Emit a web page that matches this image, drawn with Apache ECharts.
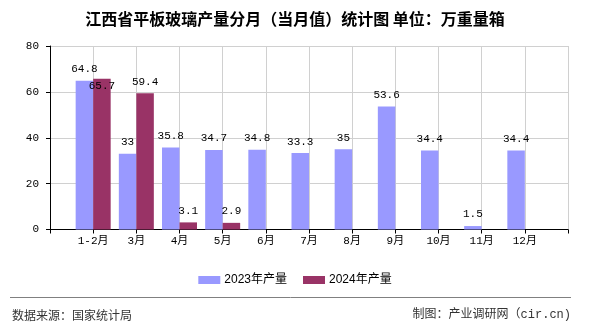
<!DOCTYPE html>
<html>
<head>
<meta charset="utf-8">
<script src="https://cdn.jsdelivr.net/npm/echarts@6/dist/echarts.min.js"></script>
<style>
  html, body { margin: 0; padding: 0; background: #fff; }
  #chart { width: 590px; height: 330px; }
</style>
</head>
<body>
<div id="chart"></div>
<script>
// 月份（1-2月合并）
const months = ['1-2月', '3月', '4月', '5月', '6月', '7月', '8月', '9月', '10月', '11月', '12月'];
// 2023年各月产量（万重量箱）
const output2023 = [64.8, 33, 35.8, 34.7, 34.8, 33.3, 35, 53.6, 34.4, 1.5, 34.4];
// 2024年各月产量（万重量箱）
const output2024 = [65.7, 59.4, 3.1, 2.9];
// 纵轴刻度
const yTicks = [0, 20, 40, 60, 80];

const seriesNames = ['2023年产量', '2024年产量'];
const colors = ['#9999ff', '#993366'];

const monoFont = "'Liberation Mono', 'Noto Sans CJK SC', monospace";
const cjkFont = "'Noto Sans CJK SC', sans-serif";

// Category axis has an empty slot at each end so that the months sit on grid lines
const cats = [''].concat(months, ['']);
function pad(arr) {
  const out = ['-'];
  for (let i = 0; i < months.length; i++) out.push(i < arr.length ? arr[i] : '-');
  out.push('-');
  return out;
}

const data2023 = pad(output2023);
// Labels of 2024 that would collide with the 2023 label of the same month go inside the bar
const data2024 = pad(output2024).map((v, i) => {
  if (v === '-') return v;
  const other = data2023[i];
  if (other !== '-' && Math.abs(v - other) < 4) {
    return { value: v, label: { position: 'insideTop', distance: 2 } };
  }
  return v;
});

const labelStyle = {
  show: true,
  position: 'top',
  distance: 6,
  color: '#000',
  fontFamily: monoFont,
  fontSize: 11
};

const chart = echarts.init(document.getElementById('chart'), null, { renderer: 'canvas' });
chart.setOption({
  animation: false,
  backgroundColor: '#fff',
  title: {
    text: '江西省平板玻璃产量分月（当月值）统计图 单位：万重量箱',
    left: 'center',
    top: 6,
    textStyle: { fontFamily: cjkFont, fontSize: 16, fontWeight: 'bold', color: '#000' }
  },
  legend: {
    top: 269,
    left: 'center',
    itemWidth: 22,
    itemHeight: 8,
    itemGap: 16,
    icon: 'rect',
    textStyle: { fontFamily: "'Liberation Sans', 'Noto Sans CJK SC', sans-serif", fontSize: 12, color: '#000', padding: [0, 0, 0, -1] },
    data: seriesNames
  },
  grid: { left: 50, right: 22, top: 46, bottom: 100.5, containLabel: false },
  xAxis: {
    type: 'category',
    data: cats,
    boundaryGap: false,
    axisLine: { lineStyle: { color: '#000', width: 1 } },
    axisTick: { show: true, interval: 0, length: 4, lineStyle: { color: '#000' } },
    axisLabel: { interval: 0, margin: 6, color: '#000', fontFamily: monoFont, fontSize: 11 },
    splitLine: { show: true, interval: 0, lineStyle: { color: '#d0d0d0', width: 1 } }
  },
  yAxis: {
    type: 'value',
    min: yTicks[0],
    max: yTicks[yTicks.length - 1],
    interval: yTicks[1] - yTicks[0],
    axisLine: { show: true, lineStyle: { color: '#000', width: 1 } },
    axisTick: { show: true, length: 4, lineStyle: { color: '#000' } },
    axisLabel: { margin: 11, color: '#000', fontFamily: monoFont, fontSize: 11 },
    splitLine: { show: true, lineStyle: { color: '#d0d0d0', width: 1 } }
  },
  series: [
    {
      name: seriesNames[0],
      type: 'bar',
      data: data2023,
      barWidth: 17.5,
      barGap: '0%',
      itemStyle: { color: colors[0] },
      label: labelStyle
    },
    {
      name: seriesNames[1],
      type: 'bar',
      data: data2024,
      barWidth: 17.5,
      barGap: '0%',
      itemStyle: { color: colors[1] },
      label: labelStyle
    }
  ],
  graphic: [
    {
      type: 'line',
      shape: { x1: 10, y1: 297.5, x2: 571, y2: 297.5 },
      style: { stroke: '#808080', lineWidth: 1 }
    },
    {
      type: 'text',
      left: 12,
      top: 309,
      style: { text: '数据来源：国家统计局', fill: '#333', font: "12px 'Noto Sans CJK SC', sans-serif" }
    },
    {
      type: 'text',
      right: 19,
      top: 309,
      style: { text: '制图：产业调研网（cir.cn)', fill: '#333', font: "12px 'Liberation Mono', 'Noto Sans CJK SC', monospace" }
    }
  ]
});
</script>
</body>
</html>
